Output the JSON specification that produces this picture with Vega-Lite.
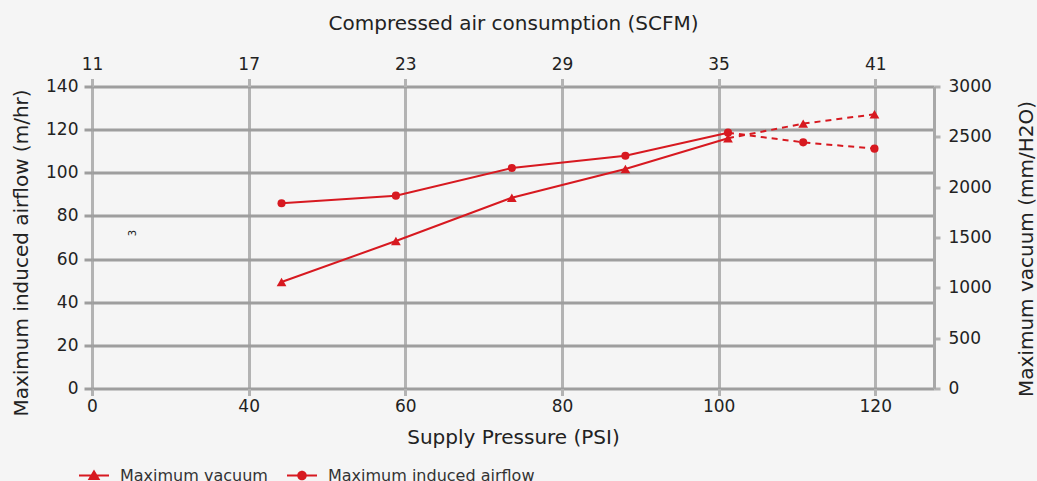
{
  "$schema": "https://vega.github.io/schema/vega-lite/v6.json",
  "width": 842,
  "height": 302,
  "autosize": "none",
  "padding": {"left": 92, "top": 86.5, "right": 103, "bottom": 92.5},
  "background": "#f5f5f5",
  "config": {
    "font": "DejaVu Sans",
    "view": {"stroke": null},
    "axis": {
      "labelFontSize": 17,
      "titleFontSize": 20,
      "labelColor": "#222222",
      "titleColor": "#222222",
      "titleFontWeight": "normal",
      "domain": false,
      "tickWidth": 3,
      "labelFlush": false
    }
  },
  "data": {
    "values": [
      {"psi": 44.2, "airflow": 85.9, "vacuum": 1058},
      {"psi": 58.8, "airflow": 89.4, "vacuum": 1465},
      {"psi": 73.6, "airflow": 102.2, "vacuum": 1895},
      {"psi": 88.1, "airflow": 107.9, "vacuum": 2181},
      {"psi": 101.2, "airflow": 118.6, "vacuum": 2486},
      {"psi": 110.8, "airflow": 114.1, "vacuum": 2631},
      {"psi": 119.9, "airflow": 111.2, "vacuum": 2724}
    ]
  },
  "layer": [
    {
      "encoding": {
        "x": {
          "field": "psi",
          "type": "quantitative",
          "scale": {"domain": [20, 127.5], "nice": false, "zero": false},
          "axis": {
            "orient": "bottom",
            "values": [20, 40, 60, 80, 100, 120],
            "labelExpr": "datum.value == 20 ? '0' : datum.label",
            "labelFlush": false,
            "title": "Supply Pressure (PSI)",
            "grid": true,
            "gridColor": "#b3b3b3",
            "gridWidth": 3,
            "tickColor": "#b3b3b3",
            "tickSize": 7,
            "labelPadding": 3,
            "titlePadding": 13
          }
        },
        "y": {
          "field": "airflow",
          "type": "quantitative",
          "scale": {"domain": [0, 140], "nice": false},
          "axis": {
            "values": [0, 20, 40, 60, 80, 100, 120, 140],
            "title": "Maximum induced airflow (m/hr)",
            "titleY": 166,
            "grid": true,
            "gridColor": "#9e9e9e",
            "gridWidth": 3,
            "tickColor": "#9e9e9e",
            "tickSize": 8,
            "labelPadding": 6,
            "titlePadding": 14
          }
        }
      },
      "layer": [
        {
          "transform": [{"filter": "datum.psi <= 102"}],
          "mark": {"type": "line", "color": "#d71920", "strokeWidth": 2}
        },
        {
          "transform": [{"filter": "datum.psi >= 100"}],
          "mark": {"type": "line", "color": "#d71920", "strokeWidth": 2, "strokeDash": [6, 5]}
        },
        {
          "mark": {"type": "point", "shape": "circle", "filled": true, "color": "#d71920", "size": 66, "opacity": 1}
        },
        {
          "data": {"values": [{"psi": 25.2, "airflow": 72.1, "label": "3"}]},
          "mark": {"type": "text", "angle": 270, "fontSize": 10, "color": "#222222"},
          "encoding": {"text": {"field": "label", "type": "nominal"}}
        }
      ]
    },
    {
      "encoding": {
        "x": {
          "field": "psi",
          "type": "quantitative",
          "scale": {"domain": [20, 127.5], "nice": false, "zero": false},
          "axis": {
            "orient": "top",
            "values": [20, 40, 60, 80, 100, 120],
            "labelExpr": "format(datum.value * 0.3 + 5, 'd')",
            "labelFlush": false,
            "title": "Compressed air consumption (SCFM)",
            "grid": false,
            "tickColor": "#b3b3b3",
            "tickSize": 8,
            "labelPadding": 5,
            "titlePadding": 22
          }
        },
        "y": {
          "field": "vacuum",
          "type": "quantitative",
          "scale": {"domain": [0, 3000], "nice": false},
          "axis": {
            "orient": "right",
            "values": [0, 500, 1000, 1500, 2000, 2500, 3000],
            "format": "d",
            "title": "Maximum vacuum (mm/H2O)",
            "titleAngle": -90,
            "titleY": 162,
            "grid": false,
            "domain": true,
            "domainColor": "#a8a8a8",
            "domainWidth": 3,
            "tickColor": "#b3b3b3",
            "tickSize": 6,
            "labelPadding": 8,
            "titlePadding": 45
          }
        }
      },
      "layer": [
        {
          "transform": [{"filter": "datum.psi <= 102"}],
          "mark": {"type": "line", "color": "#d71920", "strokeWidth": 2}
        },
        {
          "transform": [{"filter": "datum.psi >= 100"}],
          "mark": {"type": "line", "color": "#d71920", "strokeWidth": 2, "strokeDash": [6, 5]}
        },
        {
          "mark": {"type": "point", "shape": "triangle-up", "filled": true, "color": "#d71920", "size": 95, "opacity": 1}
        }
      ]
    },
    {
      "data": {"values": [{"series": "Maximum vacuum"}, {"series": "Maximum induced airflow"}]},
      "mark": {"type": "point", "filled": true, "color": "#d71920", "opacity": 0},
      "encoding": {
        "shape": {
          "field": "series",
          "type": "nominal",
          "scale": {
            "domain": ["Maximum vacuum", "Maximum induced airflow"],
            "range": ["M-1,-0.07H1V0.07H-1ZM-0.42,0.3L0,-0.4L0.42,0.3Z", "M-1,-0.07H1V0.07H-1ZM-0.32,0A0.32,0.32 0 1,1 0.32,0A0.32,0.32 0 1,1 -0.32,0Z"]
          },
          "legend": {
            "orient": "none",
            "legendX": -14,
            "legendY": 373,
            "direction": "horizontal",
            "title": null,
            "symbolSize": 900,
            "labelFontSize": 16,
            "labelColor": "#333333",
            "labelLimit": 400,
            "columnPadding": 16,
            "labelOffset": 10,
            "symbolFillColor": "#d71920",
            "symbolStrokeColor": "#d71920",
            "symbolOpacity": 1,
            "encode": {
              "symbols": {
                "update": {
                  "fill": {"value": "#d71920"},
                  "opacity": {"value": 1}
                }
              }
            }
          }
        }
      }
    }
  ],
  "resolve": {"scale": {"x": "independent", "y": "independent"}}
}
